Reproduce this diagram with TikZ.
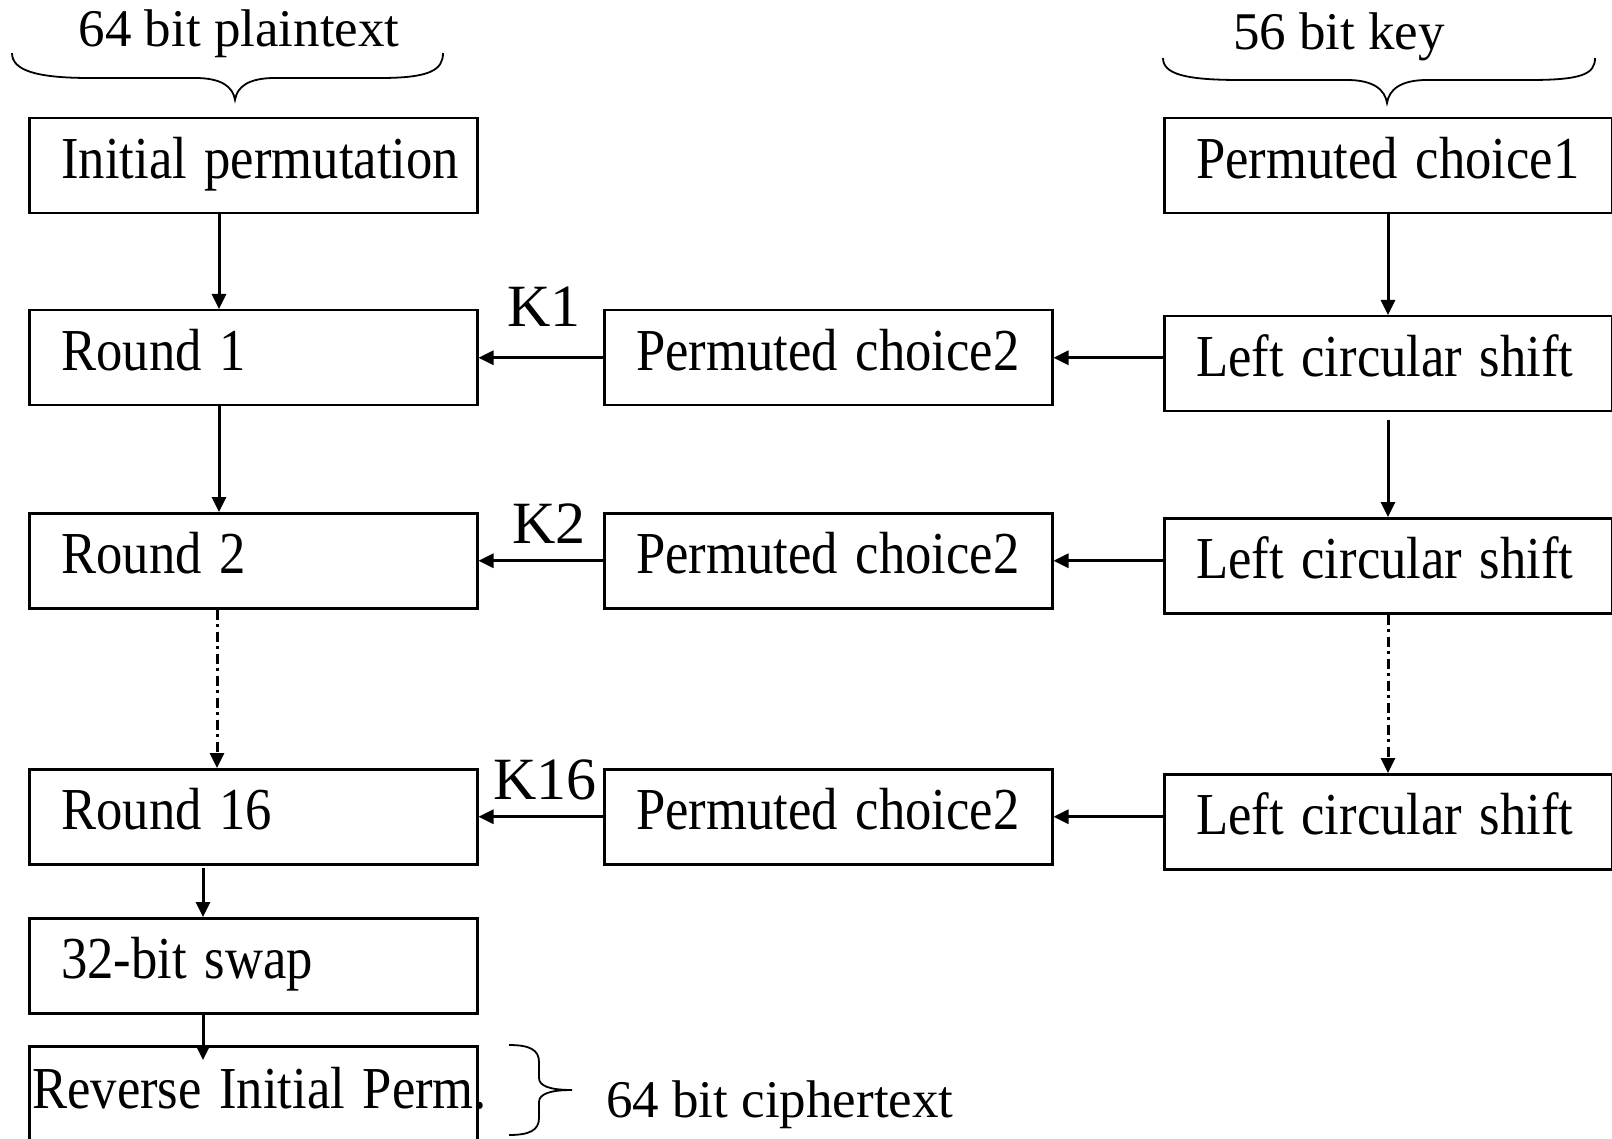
\documentclass[tikz,border=0pt]{standalone}
\usepackage{fontspec}
\setmainfont{Liberation Serif}
\usepackage{graphicx}
\usetikzlibrary{arrows.meta}
% box captions are set slightly condensed
\newcommand\narrowtext[1]{\scalebox{0.885}[1]{#1}}
\begin{document}
\begin{tikzpicture}[x=1pt,y=-1pt,
  box/.style={draw, line width=2.5pt, anchor=north west, minimum height=95pt,
    text width=384pt, inner xsep=32pt, inner ysep=0pt, align=left,
    text height=40pt, text depth=15pt, font=\fontsize{59.5}{70}\selectfont},
  arr/.style={line width=3pt, -{Triangle[length=15pt,width=14pt]}},
  dd/.style={arr, dash pattern=on 10pt off 4pt on 3pt off 5pt},
  klabel/.style={anchor=base, inner sep=0pt, font=\fontsize{60}{72}\selectfont},
  title/.style={anchor=base, inner sep=0pt, font=\fontsize{53}{64}\selectfont},
  brace/.style={line width=1.8pt}
]
\clip (0,0) rectangle (1612,1139);

% data path
\node[box] (ip)   at (28,117) {\narrowtext{Initial permutation}};
\node[box] (r1)   at (28,309) {\narrowtext{Round 1}};
\node[box] (r2)   at (28,512) {\narrowtext{Round 2}};
\node[box] (r16)  at (28,768) {\narrowtext{Round 16}};
\node[box] (swap) at (28,917) {\narrowtext{32-bit swap}};
\node[box, inner xsep=3pt, text width=442pt, minimum height=100pt] (rip) at (28,1045)
  {\narrowtext{Reverse Initial Perm.}};

% key schedule
\node[box] (pc2a) at (603,309) {\narrowtext{Permuted choice2}};
\node[box] (pc2b) at (603,512) {\narrowtext{Permuted choice2}};
\node[box] (pc2c) at (603,768) {\narrowtext{Permuted choice2}};
\node[box] (pc1)  at (1163,117) {\narrowtext{Permuted choice1}};
\node[box] (lcs1) at (1163,315) {\narrowtext{Left circular shift}};
\node[box] (lcs2) at (1163,517) {\narrowtext{Left circular shift}};
\node[box] (lcs3) at (1163,773) {\narrowtext{Left circular shift}};

% columns of the vertical connectors
\coordinate (cA) at (219,0);
\coordinate (cB) at (217,0);
\coordinate (s16) at (203,868);
\coordinate (ripTip) at (203,1060);
\coordinate (cR) at (1388,0);
\coordinate (l1out) at (1388,420);

\draw[arr] (ip.south -| cA) -- (r1.north -| cA);
\draw[arr] (r1.south -| cA) -- (r2.north -| cA);
\draw[dd]  (r2.south -| cB) -- (r16.north -| cB);
\draw[arr] (s16) -- (swap.north -| s16);
\draw[arr] (swap.south -| ripTip) -- (ripTip);

\draw[arr] (pc1.south -| cR) -- (lcs1.north -| cR);
\draw[arr] (l1out) -- (lcs2.north -| l1out);
\draw[dd]  (lcs2.south -| cR) -- (lcs3.north -| cR);

% subkeys
\draw[arr] (lcs1.west |- pc2a.east) -- (pc2a.east);
\draw[arr] (pc2a.west) -- (r1.east);
\draw[arr] (lcs2.west |- pc2b.east) -- (pc2b.east);
\draw[arr] (pc2b.west) -- (r2.east);
\draw[arr] (lcs3.west |- pc2c.east) -- (pc2c.east);
\draw[arr] (pc2c.west) -- (r16.east);

\node[klabel] (k1)  at (544,327) {K1};
\node[klabel] (k2)  at (549,543) {K2};
\node[klabel] (k16) at (545,799) {K16};

% inputs and output
\node[title] (pt) at (239,47) {64 bit plaintext};
\node[title] (kt) at (1339,50) {56 bit key};
\node[title, anchor=base west] (ct) at (606,1117) {64 bit ciphertext};

\draw[brace] (12,53) .. controls (12,70) and (35,78) .. (90,78) -- (195,78)
  .. controls (222,78) and (233,87) .. (235,100)
  .. controls (237,87) and (248,78) .. (275,78) -- (380,78)
  .. controls (430,78) and (443,70) .. (443,53);
\draw[brace] (1163,58) .. controls (1163,74) and (1185,80) .. (1240,80) -- (1347,80)
  .. controls (1374,80) and (1385,90) .. (1387,103)
  .. controls (1389,90) and (1400,80) .. (1427,80) -- (1530,80)
  .. controls (1582,80) and (1595,74) .. (1595,58);
\draw[brace] (509,1045) .. controls (530,1045) and (539,1050) .. (539,1062) -- (539,1078)
  .. controls (539,1086) and (550,1090) .. (572,1090)
  .. controls (550,1090) and (539,1094) .. (539,1102) -- (539,1118)
  .. controls (539,1130) and (530,1135) .. (509,1135);
\end{tikzpicture}
\end{document}
